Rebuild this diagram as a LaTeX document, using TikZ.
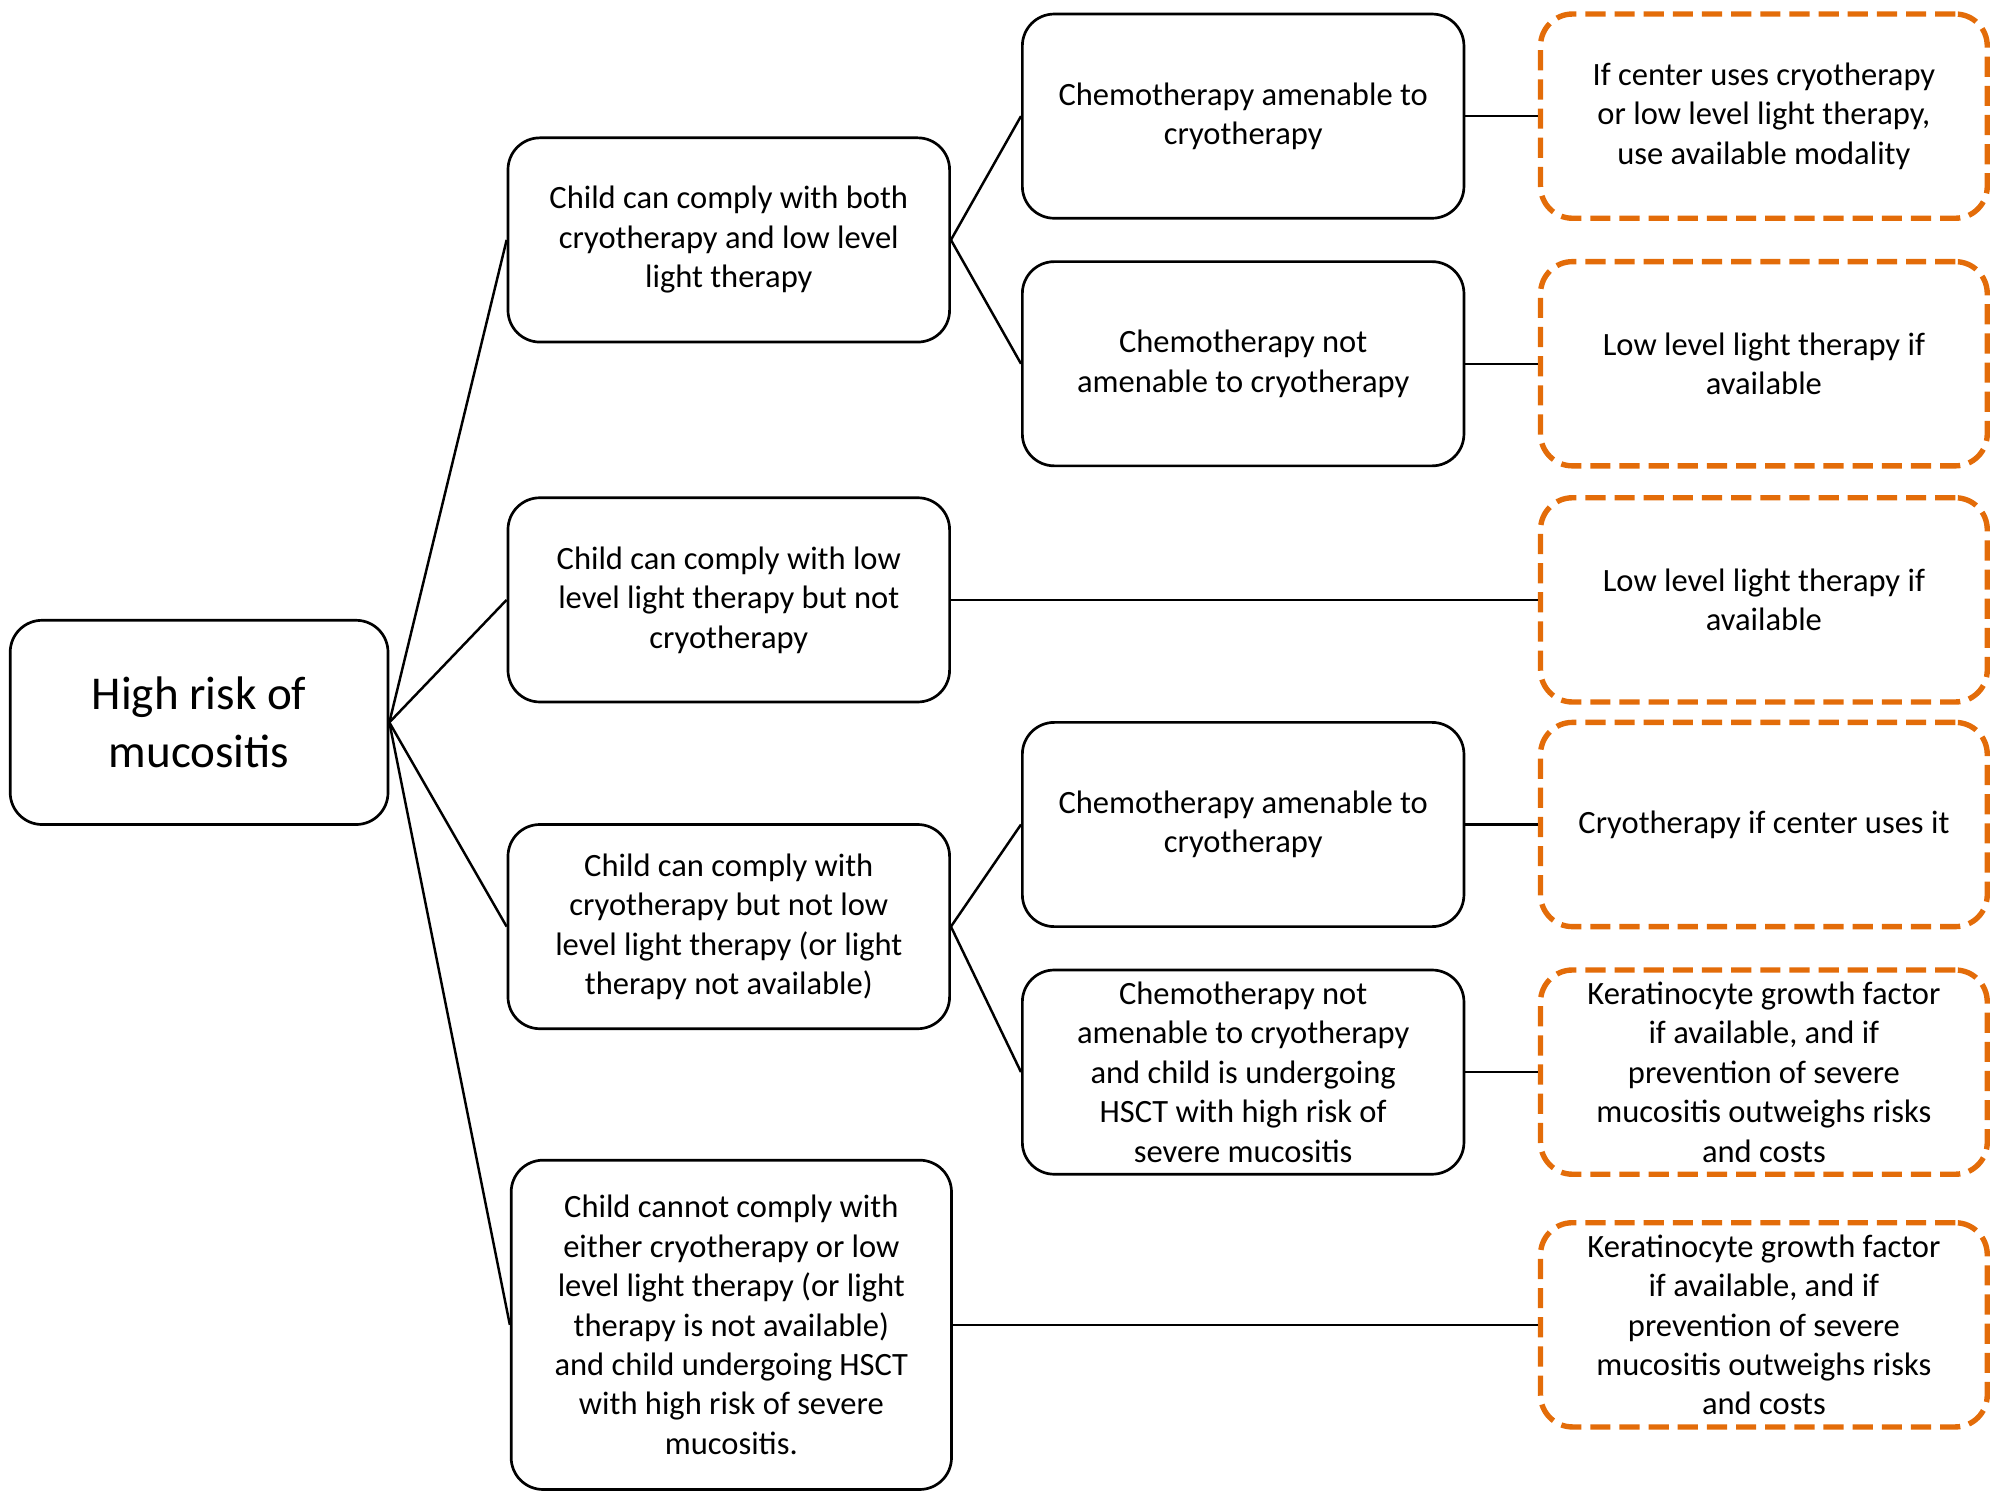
\documentclass[tikz,border=0pt]{standalone}
\usepackage{fontspec}
\setmainfont{Carlito}
\definecolor{org}{HTML}{E36C09}
\begin{document}
\begin{tikzpicture}[x=0.02cm,y=-0.02cm,
 box/.style={draw,line width=1.2pt,rounded corners=0.5cm,align=center,font=\fontsize{14.5}{17.6}\selectfont,inner sep=0pt},
 ob/.style={box,draw=org,line width=2.4pt,dash pattern=on 9pt off 4pt},
 ln/.style={line width=1.1pt}]
\useasboundingbox (0,0) rectangle (1567,1175);
\node[box,minimum width=296*0.02cm,minimum height=160*0.02cm,font=\fontsize{21}{26}\selectfont] (r) at (156,566) {High risk of\\mucositis};
\foreach \n/\x/\y/\w/\h/\t in {
 a/571/188/346/160/{Child can comply with both\\cryotherapy and low level\\light therapy},
 b/571/470/346/160/{Child can comply with low\\level light therapy but not\\cryotherapy},
 c/571/726/346/160/{Child can comply with\\cryotherapy but not low\\level light therapy (or light\\therapy not available)},
 d/573/1038/345/258/{Child cannot comply with\\either cryotherapy or low\\level light therapy (or light\\therapy is not available)\\and child undergoing HSCT\\with high risk of severe\\mucositis.},
 a1/974/91/346/160/{Chemotherapy amenable to\\cryotherapy},
 a2/974/285/346/160/{Chemotherapy not\\amenable to cryotherapy},
 c1/974/646/346/160/{Chemotherapy amenable to\\cryotherapy},
 c2/974/840/346/160/{Chemotherapy not\\amenable to cryotherapy\\and child is undergoing\\HSCT with high risk of\\severe mucositis}}
 \node[box,minimum width=\w*0.02cm,minimum height=\h*0.02cm] (\n) at (\x,\y) {\t};
\foreach \n/\y/\t in {
 o1/91/{If center uses cryotherapy\\or low level light therapy,\\use available modality},
 o2/285/{Low level light therapy if\\available},
 o3/470/{Low level light therapy if\\available},
 o4/646/{Cryotherapy if center uses it},
 o5/840/{Keratinocyte growth factor\\if available, and if\\prevention of severe\\mucositis outweighs risks\\and costs},
 o6/1038/{Keratinocyte growth factor\\if available, and if\\prevention of severe\\mucositis outweighs risks\\and costs}}
 \node[ob,minimum width=350*0.02cm,minimum height=160*0.02cm] (\n) at (1382,\y) {\t};
\foreach \p in {a,b,c,d} \draw[ln] (r.east) -- (\p.west);
\draw[ln] (a.east) -- (a1.west); \draw[ln] (a.east) -- (a2.west);
\draw[ln] (c.east) -- (c1.west); \draw[ln] (c.east) -- (c2.west);
\draw[ln] (a1.east) -- (o1.west); \draw[ln] (a2.east) -- (o2.west);
\draw[ln] (b.east) -- (o3.west); \draw[ln] (c1.east) -- (o4.west);
\draw[ln] (c2.east) -- (o5.west); \draw[ln] (d.east) -- (o6.west);
\end{tikzpicture}
\end{document}
